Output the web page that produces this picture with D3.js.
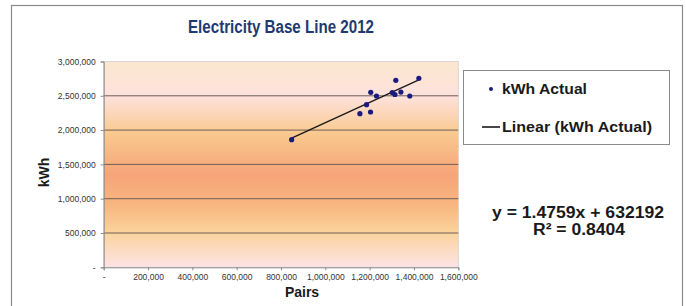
<!DOCTYPE html>
<html>
<head>
<meta charset="utf-8">
<script src="https://cdn.jsdelivr.net/npm/d3@7"></script>
<style>
  body { margin: 0; background: #fff; }
  text { font-family: "Liberation Sans", Arial, sans-serif; }
</style>
</head>
<body>
<div id="chart"></div>
<script>
// monthly readings
const pairs = [848000, 1156000, 1204000, 1186000, 1205000, 1231000, 1302000, 1314000, 1318000, 1341000, 1381000, 1422000];
const kwh = [1860000, 2239000, 2264000, 2370000, 2551000, 2497000, 2548000, 2519000, 2726000, 2555000, 2497000, 2755000];
const xTicks = [0, 200000, 400000, 600000, 800000, 1000000, 1200000, 1400000, 1600000];
const yTicks = [0, 500000, 1000000, 1500000, 2000000, 2500000, 3000000];
const slope = 1.4759;
const intercept = 632192;
const rSquared = 0.8404;

const width = 686, height = 306;
const plot = { left: 103.7, right: 458.3, top: 61.5, bottom: 267.3 };

const svg = d3.select("#chart").append("svg")
  .attr("width", width)
  .attr("height", height);

svg.append("rect").attr("width", width).attr("height", height).attr("fill", "#fff");

// outer chart frame (runs off the bottom)
svg.append("rect")
  .attr("x", 11.5).attr("y", 5.5)
  .attr("width", 671).attr("height", 320)
  .attr("fill", "#fff").attr("stroke", "#8a8a8a").attr("stroke-width", 1.2);

const x = d3.scaleLinear().domain([0, 1600000]).range([plot.left, plot.right]);
const y = d3.scaleLinear().domain([0, 3000000]).range([plot.bottom, plot.top]);

// background gradient of the plot area
const defs = svg.append("defs");
const grad = defs.append("linearGradient")
  .attr("id", "bg").attr("x1", 0).attr("y1", 0).attr("x2", 0).attr("y2", 1);
[
  [0, "#fbe7cf"], [0.17, "#fde1dc"], [0.35, "#f9c98e"], [0.55, "#f6a479"],
  [0.7, "#f8b680"], [0.83, "#fbd39c"], [1, "#fde3e6"]
].forEach(([o, c]) => grad.append("stop").attr("offset", o).attr("stop-color", c));

svg.append("rect")
  .attr("x", plot.left).attr("y", plot.top)
  .attr("width", plot.right - plot.left).attr("height", plot.bottom - plot.top)
  .attr("fill", "url(#bg)").attr("stroke", "#cfcfcf").attr("stroke-width", 0.8);

// gridlines
svg.append("g").selectAll("line")
  .data(yTicks.filter(d => d > 0 && d < 3000000))
  .join("line")
  .attr("x1", plot.left).attr("x2", plot.right)
  .attr("y1", d => y(d)).attr("y2", d => y(d))
  .attr("stroke", "#6e5f57").attr("stroke-width", 1);

const fmt = d => d === 0 ? "-" : d3.format(",")(d);

const xAxis = svg.append("g")
  .attr("transform", `translate(0,${plot.bottom})`)
  .call(d3.axisBottom(x).tickValues(xTicks).tickFormat(fmt).tickSize(3).tickPadding(4));

const yAxis = svg.append("g")
  .attr("transform", `translate(${plot.left},0)`)
  .call(d3.axisLeft(y).tickValues(yTicks).tickFormat(fmt).tickSize(3).tickPadding(5));

[xAxis, yAxis].forEach(a => {
  a.select(".domain").attr("stroke", "#8c8c8c");
  a.selectAll(".tick line").attr("stroke", "#8c8c8c");
  a.selectAll(".tick text")
    .attr("fill", "#333")
    .style("font-size", "8.5px")
    .style("font-family", "'Liberation Sans', Arial, sans-serif");
});

// trend line across the data range
const xr = d3.extent(pairs);
svg.append("line")
  .attr("x1", x(xr[0])).attr("y1", y(slope * xr[0] + intercept))
  .attr("x2", x(xr[1])).attr("y2", y(slope * xr[1] + intercept))
  .attr("stroke", "#1a1a1a").attr("stroke-width", 1.4);

// data points
svg.append("g").selectAll("circle")
  .data(pairs.map((p, i) => [p, kwh[i]]))
  .join("circle")
  .attr("cx", d => x(d[0]))
  .attr("cy", d => y(d[1]))
  .attr("r", 2.6)
  .attr("fill", "#1b1a7e");

// title and axis labels
svg.append("text")
  .attr("x", (plot.left + plot.right) / 2).attr("y", 33)
  .attr("text-anchor", "middle")
  .attr("textLength", 186).attr("lengthAdjust", "spacingAndGlyphs")
  .attr("fill", "#1f3a70")
  .style("font-size", "18px").style("font-weight", "bold")
  .text("Electricity Base Line 2012");

svg.append("text")
  .attr("transform", `translate(49,${(plot.top + plot.bottom) / 2 + 8}) rotate(-90)`)
  .attr("text-anchor", "middle")
  .attr("fill", "#1a1a1a")
  .style("font-size", "14px").style("font-weight", "bold")
  .text("kWh");

svg.append("text")
  .attr("x", 302).attr("y", 297)
  .attr("text-anchor", "middle")
  .attr("fill", "#1a1a1a")
  .style("font-size", "14px").style("font-weight", "bold")
  .text("Pairs");

// legend
const legend = svg.append("g");
legend.append("rect")
  .attr("x", 463.5).attr("y", 70.5).attr("width", 206).attr("height", 74)
  .attr("fill", "#fff").attr("stroke", "#8a8a8a");
legend.append("circle").attr("cx", 491).attr("cy", 89).attr("r", 2).attr("fill", "#1b1a7e");
legend.append("text").attr("x", 502).attr("y", 94)
  .attr("fill", "#1a1a1a").style("font-size", "15px").style("font-weight", "bold")
  .attr("textLength", 85).attr("lengthAdjust", "spacingAndGlyphs")
  .text("kWh Actual");
legend.append("line").attr("x1", 482).attr("x2", 500).attr("y1", 127).attr("y2", 127)
  .attr("stroke", "#1a1a1a").attr("stroke-width", 1.6);
legend.append("text").attr("x", 502).attr("y", 132)
  .attr("fill", "#1a1a1a").style("font-size", "15px").style("font-weight", "bold")
  .attr("textLength", 150).attr("lengthAdjust", "spacingAndGlyphs")
  .text("Linear (kWh Actual)");

// regression equation
svg.append("text")
  .attr("x", 578).attr("y", 218)
  .attr("text-anchor", "middle")
  .attr("fill", "#1a1a1a").style("font-size", "16px").style("font-weight", "bold")
  .attr("textLength", 172).attr("lengthAdjust", "spacingAndGlyphs")
  .text(`y = ${slope}x + ${intercept}`);
svg.append("text")
  .attr("x", 579).attr("y", 235)
  .attr("text-anchor", "middle")
  .attr("fill", "#1a1a1a").style("font-size", "16px").style("font-weight", "bold")
  .attr("textLength", 92).attr("lengthAdjust", "spacingAndGlyphs")
  .text(`R² = ${rSquared}`);
</script>
</body>
</html>
